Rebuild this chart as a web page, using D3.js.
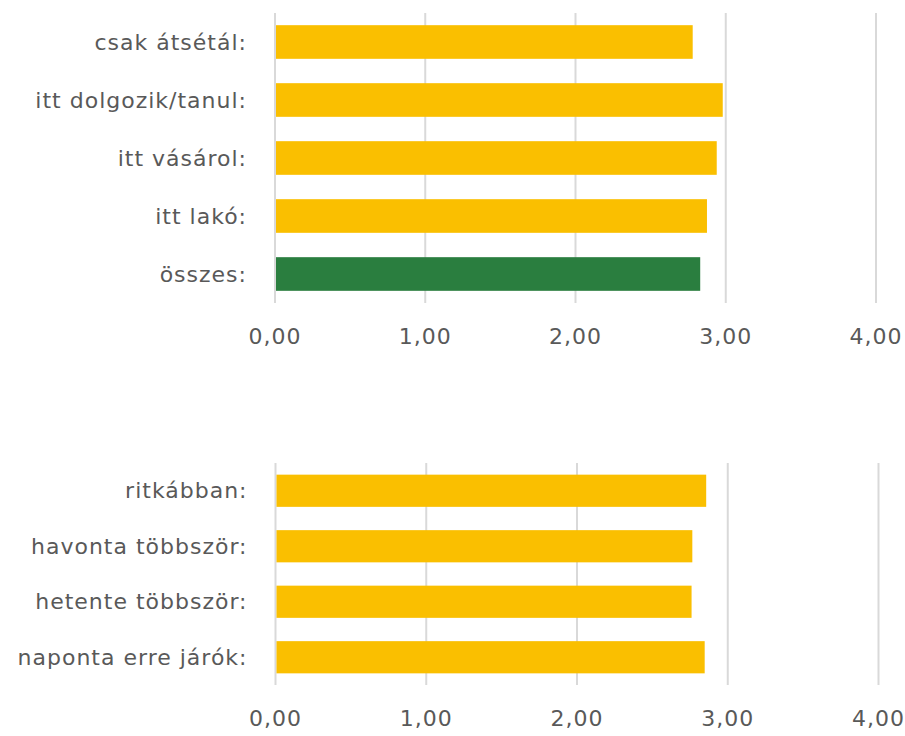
<!DOCTYPE html>
<html>
<head>
<meta charset="utf-8">
<style>
  body { margin: 0; background: #fff; }
  text { font-family: "DejaVu Sans", "Noto Sans", sans-serif; }
</style>
</head>
<body>
<div id="chart"></div>
<script src="https://d3js.org/d3.v7.min.js"></script>
<script>
// top chart data
var topCategories = ["csak átsétál:", "itt dolgozik/tanul:", "itt vásárol:", "itt lakó:", "összes:"];
var topValues = [2.78, 2.98, 2.94, 2.875, 2.83];
var topColors = ["#FABF00", "#FABF00", "#FABF00", "#FABF00", "#2A7E3F"];

// bottom chart data
var bottomCategories = ["ritkábban:", "havonta többször:", "hetente többször:", "naponta erre járók:"];
var bottomValues = [2.857, 2.765, 2.76, 2.847];

var tickValues = [0, 1, 2, 3, 4];

var width = 905, height = 736;

var svg = d3.select("#chart")
  .append("svg")
    .attr("width", width)
    .attr("height", height);

var fmt = function(d) { return d3.format(".2f")(d).replace(".", ","); };

// draws one horizontal bar chart
function drawBars(cats, vals, colors, top, bottom, left, right, pad) {
  var g = svg.append("g");

  var x = d3.scaleLinear()
    .domain([0, 4])
    .range([left, right]);

  var y = d3.scaleBand()
    .domain(cats)
    .range([top, bottom])
    .paddingInner(pad)
    .paddingOuter(pad / 2);

  // gridlines
  g.selectAll(".grid")
    .data(tickValues)
    .enter()
    .append("line")
      .attr("x1", function(d) { return x(d); })
      .attr("x2", function(d) { return x(d); })
      .attr("y1", top)
      .attr("y2", bottom)
      .attr("stroke", "#d9d9d9")
      .attr("stroke-width", 2);

  // bars
  g.selectAll(".bar")
    .data(vals)
    .enter()
    .append("rect")
      .attr("x", x(0) + 1)
      .attr("y", function(d, i) { return y(cats[i]); })
      .attr("width", function(d) { return x(d) - x(0) - 1; })
      .attr("height", y.bandwidth())
      .attr("fill", function(d, i) { return colors[i]; });

  // category labels
  g.selectAll(".cat")
    .data(cats)
    .enter()
    .append("text")
      .attr("x", left - 28)
      .attr("y", function(d) { return y(d) + y.bandwidth() / 2; })
      .attr("dy", "0.35em")
      .attr("text-anchor", "end")
      .attr("fill", "#595959")
      .style("font-size", "22px")
      .style("letter-spacing", "1px")
      .text(function(d) { return d; });

  // x tick labels
  g.selectAll(".tick")
    .data(tickValues)
    .enter()
    .append("text")
      .attr("x", function(d) { return x(d); })
      .attr("y", bottom + 33)
      .attr("dy", "0.35em")
      .attr("text-anchor", "middle")
      .attr("fill", "#595959")
      .style("font-size", "22px")
      .style("letter-spacing", "1px")
      .text(fmt);
}

drawBars(topCategories, topValues, topColors, 13, 303, 275, 876, 0.42);
drawBars(bottomCategories, bottomValues, bottomValues.map(function() { return "#FABF00"; }),
  463, 685, 275.5, 878.5, 0.42);
</script>
</body>
</html>
